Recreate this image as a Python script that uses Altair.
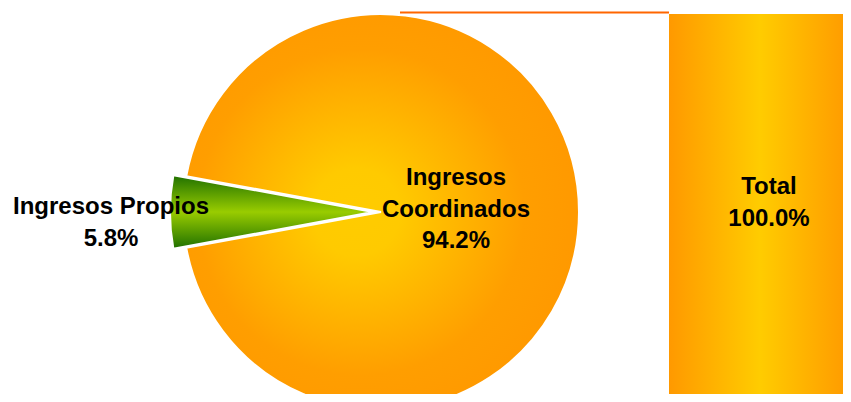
import math
import altair as alt
import pandas as pd

# ---- data ----
pie_names = ["Ingresos Coordinados", "Ingresos Propios"]
pie_values = [94.2, 5.8]
pie_order = [0, 1]
pie_labels = ["Ingresos\nCoordinados\n94.2%", "Ingresos Propios\n5.8%"]

bar_names = ["Total"]
bar_values = [100.0]
bar_labels = ["Total\n100.0%"]

pie_df = pd.DataFrame({"name": pie_names, "value": pie_values,
                       "order": pie_order, "label": pie_labels})
bar_df = pd.DataFrame({"name": bar_names, "value": bar_values, "label": bar_labels})

W, H = 835, 386
CX, CY, R = 373, 204, 198

# green slice centred pointing left
green_share = pie_values[1] / sum(pie_values)
start = 1.5 * math.pi + green_share * math.pi

theta_scale = alt.Scale(domain=[0, sum(pie_values)], range=[start, start + 2 * math.pi])
y_scale = alt.Scale(domain=[0, 101.58], nice=False, zero=True)

orange_radial = {
    "gradient": "radial",
    "x1": 0.43, "y1": 0.5, "r1": 0,
    "x2": 0.45, "y2": 0.5, "r2": 0.55,
    "stops": [
        {"offset": 0, "color": "#FFCC00"},
        {"offset": 0.2, "color": "#FFCA00"},
        {"offset": 0.75, "color": "#FF9E00"},
        {"offset": 1, "color": "#FF9900"},
    ],
}
green_linear = {
    "gradient": "linear",
    "x1": 0, "y1": 0, "x2": 0, "y2": 1,
    "stops": [
        {"offset": 0, "color": "#1F7000"},
        {"offset": 0.5, "color": "#99CC00"},
        {"offset": 1, "color": "#1F7000"},
    ],
}
bar_linear = {
    "gradient": "linear",
    "x1": 0, "y1": 0, "x2": 1, "y2": 0,
    "stops": [
        {"offset": 0, "color": "#FF9900"},
        {"offset": 0.5, "color": "#FFCC00"},
        {"offset": 1, "color": "#FF9900"},
    ],
}

pie_base = alt.Chart(pie_df).transform_stack(
    stack="value", groupby=[], as_=["t0", "t1"],
    sort=[alt.SortField("order", order="ascending")],
)

orange = pie_base.transform_filter(alt.datum.order == 0).mark_arc(
    fill=orange_radial, stroke="white", strokeWidth=2, outerRadius=R,
).encode(
    theta=alt.Theta("t0:Q", scale=theta_scale),
    theta2="t1:Q",
    x=alt.value(CX), y=alt.value(CY),
)

green = pie_base.transform_filter(alt.datum.order == 1).mark_arc(
    fill=green_linear, stroke="white", strokeWidth=2, outerRadius=R + 5,
).encode(
    theta=alt.Theta("t0:Q", scale=theta_scale),
    theta2="t1:Q",
    x=alt.value(CX - 8), y=alt.value(CY),
)

bar = alt.Chart(bar_df).mark_rect(fill=bar_linear).encode(
    x=alt.value(661), x2=alt.value(W + 8),
    y=alt.Y("value:Q", scale=y_scale, axis=None),
    y2=alt.datum(0),
)

connector = alt.Chart(bar_df).mark_rule(color="#FF6600", strokeWidth=2, yOffset=-1.5).encode(
    x=alt.value(392), x2=alt.value(661),
    y=alt.Y("value:Q", scale=y_scale, axis=None),
)

text_style = dict(font="Liberation Sans", fontWeight="bold", fontSize=24,
                  lineBreak="\n", lineHeight=31.5, align="center",
                  baseline="middle", color="black")

pie_text_c = alt.Chart(pie_df).transform_filter(alt.datum.order == 0).mark_text(**text_style).encode(
    text="label:N", x=alt.value(448), y=alt.value(170),
)
pie_text_p = alt.Chart(pie_df).transform_filter(alt.datum.order == 1).mark_text(**text_style).encode(
    text="label:N", x=alt.value(103), y=alt.value(199),
)
bar_text = alt.Chart(bar_df).mark_text(**text_style).encode(
    text="label:N", x=alt.value(761), y=alt.value(179),
)

chart = alt.layer(orange, green, bar, connector, pie_text_c, pie_text_p, bar_text).properties(
    width=W, height=H,
    autosize=alt.AutoSizeParams(type="none"),
    padding=0,
    background="white",
).configure_view(strokeWidth=0)

chart.save("out.html", embed_options={"renderer": "svg", "actions": False})
